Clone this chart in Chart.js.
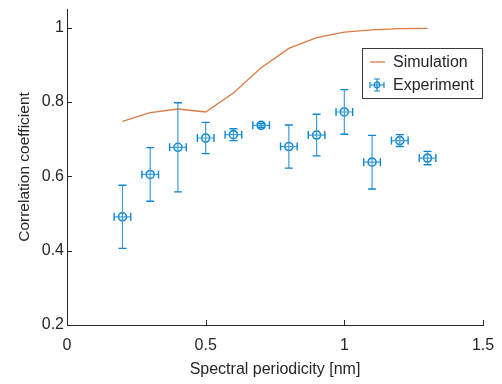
<!DOCTYPE html>
<html>
<head>
<meta charset="utf-8">
<script src="https://cdn.jsdelivr.net/npm/chart.js@4/dist/chart.umd.min.js"></script>
<style>
  html, body { margin: 0; padding: 0; background: #ffffff; }
  #wrap { width: 502px; height: 384px; }
</style>
</head>
<body>
<div id="wrap"><canvas id="c" width="502" height="384"></canvas></div>
<script>
// ---- data ----
const periodicity = [0.2, 0.3, 0.4, 0.5, 0.6, 0.7, 0.8, 0.9, 1.0, 1.1, 1.2, 1.3];
const simulation  = [0.748, 0.771, 0.781, 0.773, 0.824, 0.892, 0.944, 0.973, 0.988, 0.994, 0.997, 0.998];
const experiment  = [0.491, 0.605, 0.678, 0.703, 0.712, 0.737, 0.680, 0.711, 0.773, 0.638, 0.696, 0.649];
const expYErr     = [0.085, 0.072, 0.120, 0.042, 0.016, 0.005, 0.058, 0.056, 0.060, 0.072, 0.016, 0.018];
const expXErr     = [0.03, 0.03, 0.03, 0.03, 0.03, 0.03, 0.03, 0.03, 0.03, 0.03, 0.03, 0.03];
const xTicks      = [0, 0.5, 1, 1.5];
const xTickLabels = ['0', '0.5', '1', '1.5'];
const yTicks      = [0.2, 0.4, 0.6, 0.8, 1];
const yTickLabels = ['0.2', '0.4', '0.6', '0.8', '1'];
const seriesNames = ['Simulation', 'Experiment'];
const axisTitles  = { x: 'Spectral periodicity [nm]', y: 'Correlation coefficient' };

// ---- styles ----
const FONT = '"Liberation Sans", Arial, Helvetica, sans-serif';
const AXIS_COLOR = '#262626';
const TEXT_COLOR = '#262626';
const BLUE = '#0f87cc';
const BLUE_LIGHT = '#3c9fd8';
const ORANGE = '#dc7a45';

const errorBarPlugin = {
  id: 'errorBars',
  afterDatasetsDraw(chart) {
    const ctx = chart.ctx;
    const xs = chart.scales.x, ys = chart.scales.y;
    const cap = 4;
    ctx.save();
    for (let i = 0; i < periodicity.length; i++) {
      const px = xs.getPixelForValue(periodicity[i]);
      const py = ys.getPixelForValue(experiment[i]);
      const yTop = ys.getPixelForValue(experiment[i] + expYErr[i]);
      const yBot = ys.getPixelForValue(experiment[i] - expYErr[i]);
      const xL = xs.getPixelForValue(periodicity[i] - expXErr[i]);
      const xR = xs.getPixelForValue(periodicity[i] + expXErr[i]);
      ctx.strokeStyle = BLUE_LIGHT;
      ctx.lineWidth = 1.2;
      ctx.beginPath();
      ctx.moveTo(px, yTop); ctx.lineTo(px, yBot);
      ctx.moveTo(xL, py); ctx.lineTo(xR, py);
      ctx.stroke();
      ctx.strokeStyle = BLUE;
      ctx.lineWidth = 1.4;
      ctx.beginPath();
      ctx.moveTo(px - cap, yTop); ctx.lineTo(px + cap, yTop);
      ctx.moveTo(px - cap, yBot); ctx.lineTo(px + cap, yBot);
      ctx.moveTo(xL, py - cap); ctx.lineTo(xL, py + cap);
      ctx.moveTo(xR, py - cap); ctx.lineTo(xR, py + cap);
      ctx.stroke();
    }
    ctx.restore();
  }
};

const ticksPlugin = {
  id: 'inwardTicks',
  afterDraw(chart) {
    const ctx = chart.ctx;
    const xs = chart.scales.x, ys = chart.scales.y;
    const a = chart.chartArea;
    const len = 5;
    ctx.save();
    ctx.strokeStyle = AXIS_COLOR;
    ctx.lineWidth = 1;
    ctx.beginPath();
    xTicks.forEach(v => {
      const x = Math.round(xs.getPixelForValue(v)) + 0.5;
      ctx.moveTo(x, a.bottom); ctx.lineTo(x, a.bottom - len);
    });
    yTicks.forEach(v => {
      const y = Math.round(ys.getPixelForValue(v)) + 0.5;
      ctx.moveTo(a.left, y); ctx.lineTo(a.left + len, y);
    });
    ctx.stroke();

    // legend box
    const bx = 362.5, by = 48.5, bw = 120, bh = 50;
    ctx.fillStyle = '#ffffff';
    ctx.fillRect(bx, by, bw, bh);
    ctx.strokeStyle = '#3a3a3a';
    ctx.strokeRect(bx, by, bw, bh);

    // simulation sample
    ctx.strokeStyle = ORANGE;
    ctx.lineWidth = 1.3;
    ctx.beginPath();
    ctx.moveTo(370, 62); ctx.lineTo(385, 62);
    ctx.stroke();

    // experiment sample (mini error bar)
    const cx = 377, cy = 85;
    ctx.strokeStyle = BLUE;
    ctx.lineWidth = 1.2;
    ctx.beginPath();
    ctx.moveTo(cx - 7, cy); ctx.lineTo(cx + 7, cy);
    ctx.moveTo(cx - 7, cy - 3); ctx.lineTo(cx - 7, cy + 3);
    ctx.moveTo(cx + 7, cy - 3); ctx.lineTo(cx + 7, cy + 3);
    ctx.moveTo(cx, cy - 6); ctx.lineTo(cx, cy + 6);
    ctx.moveTo(cx - 3, cy - 6); ctx.lineTo(cx + 3, cy - 6);
    ctx.moveTo(cx - 3, cy + 6); ctx.lineTo(cx + 3, cy + 6);
    ctx.stroke();
    ctx.beginPath();
    ctx.arc(cx, cy, 2.8, 0, Math.PI * 2);
    ctx.stroke();

    ctx.fillStyle = TEXT_COLOR;
    ctx.font = '16px ' + FONT;
    ctx.textBaseline = 'middle';
    ctx.textAlign = 'left';
    ctx.fillText(seriesNames[0], 393, 63);
    ctx.fillText(seriesNames[1], 393, 86);
    ctx.restore();
  }
};

new Chart(document.getElementById('c'), {
  type: 'scatter',
  data: {
    datasets: [
      {
        label: seriesNames[0],
        type: 'line',
        data: periodicity.map((x, i) => ({ x: x, y: simulation[i] })),
        borderColor: ORANGE,
        borderWidth: 1.3,
        pointRadius: 0,
        fill: false,
        tension: 0,
        order: 2
      },
      {
        label: seriesNames[1],
        data: periodicity.map((x, i) => ({ x: x, y: experiment[i] })),
        borderColor: BLUE,
        backgroundColor: 'rgba(0,0,0,0)',
        borderWidth: 1.6,
        pointRadius: 4,
        pointStyle: 'circle',
        order: 1
      }
    ]
  },
  options: {
    responsive: false,
    devicePixelRatio: 1,
    animation: false,
    events: [],
    layout: { padding: { left: 0, right: 19, top: 9, bottom: 0 } },
    plugins: { legend: { display: false }, tooltip: { enabled: false } },
    scales: {
      x: {
        type: 'linear',
        min: 0, max: 1.5,
        afterFit(s) { s.height = 59; s.paddingLeft = 0; s.paddingRight = 0; },
        afterBuildTicks(s) { s.ticks = xTicks.map(v => ({ value: v })); },
        grid: { display: false, drawTicks: false },
        border: { display: true, color: AXIS_COLOR, width: 1 },
        ticks: {
          padding: 11,
          color: TEXT_COLOR,
          font: { family: FONT, size: 16 },
          maxRotation: 0,
          callback: (v) => xTickLabels[xTicks.indexOf(v)]
        },
        title: {
          display: true,
          text: axisTitles.x,
          color: TEXT_COLOR,
          font: { family: FONT, size: 16 },
          padding: { top: 0, bottom: 5 }
        }
      },
      y: {
        type: 'linear',
        min: 0.2, max: 1.05,
        afterFit(s) { s.width = 67; s.paddingTop = 0; s.paddingBottom = 0; },
        afterBuildTicks(s) { s.ticks = yTicks.map(v => ({ value: v })); },
        grid: { display: false, drawTicks: false },
        border: { display: true, color: AXIS_COLOR, width: 1 },
        ticks: {
          padding: 3,
          color: TEXT_COLOR,
          font: { family: FONT, size: 16 },
          callback: (v) => yTickLabels[yTicks.indexOf(v)]
        },
        title: {
          display: true,
          text: axisTitles.y,
          color: TEXT_COLOR,
          font: { family: FONT, size: 15.5 },
          padding: { top: 15, bottom: 0 }
        }
      }
    }
  },
  plugins: [errorBarPlugin, ticksPlugin]
});
</script>
</body>
</html>
